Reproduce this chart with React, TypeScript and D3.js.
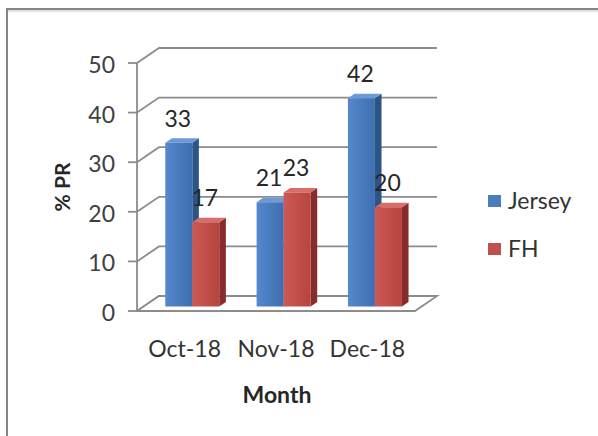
import React from 'react';
import * as d3 from 'd3';

const months = ['Oct-18', 'Nov-18', 'Dec-18'];
const seriesNames = ['Jersey', 'FH'];
const jersey = [33, 21, 42];
const fh = [17, 23, 20];
const yTicks = [0, 10, 20, 30, 40, 50];

const W = 598;
const H = 436;
const DX = 22; // depth shift of the back wall
const DY = 15;
const F1 = 0.3; // bar front depth
const F2 = 0.6; // bar back depth
const FONT = 'Lato, "Open Sans", sans-serif';
const FS = 23;

const colors: Record<string, { front: [string, string]; side: string; top: string; key: string }> = {
  Jersey: { front: ['#5588cc', '#3d6fb0'], side: '#2d5487', top: '#6b9ad6', key: '#4a7ebb' },
  FH: { front: ['#cc5955', '#b8443f'], side: '#872c2a', top: '#d86d69', key: '#c0504d' },
};

export default function App() {
  const x = d3.scaleBand().domain(months).range([140, 414]).padding(0);
  const bw = x.bandwidth();
  const xs = d3.scaleBand().domain(seriesNames).range([bw / 2 - 27, bw / 2 + 27]).padding(0);
  const y = d3.scaleLinear().domain([0, 50]).range([311, 63]);
  const axisX = 137;
  const wallRight = 415;

  const proj = (px: number, v: number, f: number): [number, number] => [px + f * DX, y(v) - f * DY];
  const pts = (arr: [number, number][]) => arr.map((p) => p.join(',')).join(' ');

  const values: Record<string, number[]> = { Jersey: jersey, FH: fh };

  const bars = months.flatMap((m, i) =>
    seriesNames.map((s) => {
      const x0 = (x(m) as number) + (xs(s) as number);
      const x1 = x0 + xs.bandwidth();
      const v = values[s][i];
      return { m, s, v, x0, x1 };
    })
  );

  return (
    <svg width={W} height={H} style={{ position: 'absolute', left: 0, top: 0, background: '#fff' }}>
      <defs>
        {seriesNames.map((s) => (
          <linearGradient key={s} id={`g-${s}`} x1="0" x2="1" y1="0" y2="0">
            <stop offset="0" stopColor={colors[s].front[0]} />
            <stop offset="1" stopColor={colors[s].front[1]} />
          </linearGradient>
        ))}
      </defs>
      {/* chart frame */}
      <rect x={7} y={9} width={W + 20} height={H + 20} fill="#fff" stroke="#858585" strokeWidth={2} />
      <line x1={8} x2={W} y1={11} y2={11} stroke="#e2e2e2" strokeWidth={2} />

      {/* gridlines on side and back wall */}
      {yTicks.map((t) => {
        const a = proj(axisX, t, 0);
        const b = proj(axisX, t, 1);
        const c = proj(wallRight, t, 1);
        return (
          <polyline key={t} points={pts([a, b, c])} fill="none" stroke="#8c8c8c" strokeWidth={1.8} />
        );
      })}

      {/* floor */}
      <polygon
        points={pts([proj(axisX, 0, 0), proj(wallRight, 0, 0), proj(wallRight, 0, 1), proj(axisX, 0, 1)])}
        fill="#fff"
        stroke="#8c8c8c"
        strokeWidth={1.8}
      />

      {/* y axis */}
      <line x1={axisX} x2={axisX} y1={y(50)} y2={y(0)} stroke="#8c8c8c" strokeWidth={1.8} />
      {yTicks.map((t) => (
        <g key={t}>
          <line x1={axisX - 9} x2={axisX} y1={y(t)} y2={y(t)} stroke="#8c8c8c" strokeWidth={1.8} />
          <text x={115} y={y(t) + 1} textAnchor="end" dominantBaseline="central" fontFamily={FONT} fontSize={FS} fill="#404040">
            {t}
          </text>
        </g>
      ))}

      {/* bars */}
      {bars.map((b) => {
        const c = colors[b.s];
        const tl = proj(b.x0, b.v, F1);
        const tr = proj(b.x1, b.v, F1);
        const bl = proj(b.x0, 0, F1);
        const br = proj(b.x1, 0, F1);
        const tl2 = proj(b.x0, b.v, F2);
        const tr2 = proj(b.x1, b.v, F2);
        const br2 = proj(b.x1, 0, F2);
        return (
          <g key={b.m + b.s}>
            <polygon points={pts([tr, tr2, br2, br])} fill={c.side} />
            <polygon points={pts([tl, tr, tr2, tl2])} fill={c.top} />
            <polygon points={pts([tl, tr, br, bl])} fill={`url(#g-${b.s})`} />
          </g>
        );
      })}

      {/* data labels */}
      {bars.map((b) => {
        const tl = proj(b.x0, b.v, F1);
        return (
          <text
            key={'l' + b.m + b.s}
            x={(b.x0 + b.x1) / 2 + F1 * DX - 1}
            y={tl[1] - 16}
            textAnchor="middle"
            fontFamily={FONT}
            fontSize={FS}
            fill="#262626"
          >
            {b.v}
          </text>
        );
      })}

      {/* category labels */}
      {months.map((m) => (
        <text key={m} x={(x(m) as number) + bw / 2 - 1} y={357} textAnchor="middle" fontFamily={FONT} fontSize={FS} fill="#333">
          {m}
        </text>
      ))}

      {/* axis titles */}
      <text x={277} y={403} textAnchor="middle" fontFamily={FONT} fontSize={FS} fontWeight="bold" fill="#262626">
        Month
      </text>
      <text
        transform="translate(61,187) rotate(-90)"
        textAnchor="middle"
        dominantBaseline="central"
        fontFamily={FONT}
        fontSize={21}
        fontWeight="bold"
        fill="#262626"
      >
        % PR
      </text>

      {/* legend */}
      {seriesNames.map((s, i) => (
        <g key={s} transform={`translate(488,${195 + i * 48})`}>
          <rect width={13} height={12} fill={colors[s].key} />
          <text x={20} y={14} fontFamily={FONT} fontSize={FS} fill="#333">
            {s}
          </text>
        </g>
      ))}
    </svg>
  );
}
